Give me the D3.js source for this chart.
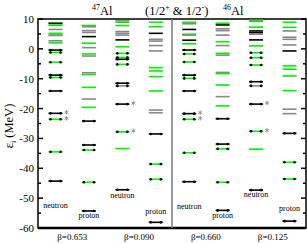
<!DOCTYPE html>
<html>
<head>
<meta charset="utf-8">
<script src="https://cdn.jsdelivr.net/npm/d3@7"></script>
<style>
  body { margin: 0; background: #fff; }
  text { font-family: "Liberation Serif", "DejaVu Serif", serif; }
</style>
</head>
<body>
<svg width="307" height="243"></svg>
<script>
// level codes: k = black, g = green, s = grey, d = occupied (dots), * = star
var n47a = [[8.7,"g"],[8.5,"k"],[7.9,"g"],[6.5,"s"],[5.2,"g"],[4.6,"g"],[4.5,"s"],[2.7,"s"],[2.0,"g"],
  [-0.4,"kd"],[-1.2,"gd"],[-4.5,"gd"],[-8.8,"kd"],[-9.6,"gd"],[-14.1,"kd"],[-21.6,"kd*"],[-23.6,"gd*"],
  [-34.5,"gd"],[-44.3,"kd"]];
var p47a = [[7.8,"g"],[7.4,"s"],[6.1,"s"],[5.5,"s"],[4.1,"k"],[1.9,"g"],[0.4,"s"],[-1.7,"g"],[-2.4,"s"],
  [-8.0,"s"],[-8.6,"g"],[-12.9,"g"],[-16.8,"s"],[-19.6,"g"],[-24.2,"kd"],[-32.2,"kd"],[-33.9,"gd"],
  [-44.7,"gd"],[-54.3,"kd"]];
var n47b = [[9.4,"g"],[8.9,"s"],[7.8,"g"],[5.8,"s"],[5.2,"s"],[4.6,"s"],[3.0,"k"],[0.7,"g"],[-1.5,"gd"],
  [-2.9,"gd"],[-3.5,"kd"],[-5.2,"gd"],[-11.5,"kd"],[-12.4,"sd"],[-18.5,"kd*"],[-27.8,"gd*"],[-33.4,"g"],
  [-47.2,"kd"]];
var p47b = [[8.9,"g"],[7.4,"g"],[5.2,"k"],[3.2,"s"],[2.6,"s"],[1.1,"s"],[-0.7,"s"],[-6.3,"g"],[-7.4,"g"],
  [-9.3,"g"],[-14.1,"g"],[-20.5,"s"],[-21.4,"s"],[-28.5,"kd"],[-38.6,"gd"],[-43.7,"gd"],[-58.1,"kd"]];
var n46a = [[8.9,"g"],[8.4,"s"],[6.5,"k"],[4.9,"g"],[4.6,"s"],[2.9,"k"],[1.7,"g"],[-0.4,"kd"],[-1.7,"gd"],
  [-4.4,"gd"],[-8.8,"kd"],[-9.9,"gd"],[-14.1,"kd"],[-21.7,"kd*"],[-23.6,"gd*"],[-34.8,"gd"],[-44.5,"kd"]];
var p46a = [[8.6,"g"],[8.0,"k"],[6.7,"s"],[6.1,"s"],[4.6,"s"],[2.4,"g"],[1.1,"s"],[-1.5,"g"],[-2.1,"s"],
  [-7.9,"s"],[-8.3,"g"],[-12.1,"g"],[-16.0,"s"],[-19.1,"g"],[-23.4,"kd"],[-31.9,"kd"],[-33.5,"gd"],
  [-44.7,"gd"],[-54.1,"kd"]];
var n46b = [[9.6,"s"],[9.2,"g"],[7.3,"g"],[6.0,"k"],[5.4,"k"],[4.9,"s"],[3.0,"k"],[1.0,"g"],[-1.3,"gd"],
  [-2.96,"gd"],[-5.4,"gd"],[-11.0,"kd"],[-12.4,"sd"],[-18.5,"kd*"],[-27.6,"gd*"],[-33.6,"g"],[-47.3,"kd"]];
var p46b = [[8.9,"g"],[7.2,"g"],[6.0,"s"],[3.9,"s"],[3.2,"s"],[1.3,"s"],[-0.7,"k"],[-5.7,"g"],[-6.8,"g"],
  [-9.1,"g"],[-14.0,"g"],[-20.2,"s"],[-21.7,"s"],[-28.3,"kd"],[-38.0,"gd"],[-43.6,"gd"],[-57.7,"kd"]];

var columns = [n47a, p47a, n47b, p47b, n46a, p46a, n46b, p46b];
var colNames = ["neutron","proton","neutron","proton","neutron","proton","neutron","proton"];
var colLabelE = [-53.3, -56.6, -49.8, -55.3, -53.6, -56.6, -49.6, -54.3];
var betas = ["β=0.653","β=0.090","β=0.660","β=0.125"];
var yTicks = [10, 0, -10, -20, -30, -40, -50, -60];

var svg = d3.select("svg");
var mLeft = 38, mRight = 306, mTop = 19, mBottom = 228;

var y = d3.scaleLinear().domain([-60, 10]).range([mBottom, mTop]);
var x = d3.scalePoint().domain(d3.range(8)).range([55.5, 289.5]);
var halfW = 7;
var colors = {k: "#000", g: "#00f000", s: "#888"};

// frame
svg.append("rect")
    .attr("x", mLeft).attr("y", mTop)
    .attr("width", mRight - mLeft).attr("height", mBottom - mTop)
    .attr("fill", "none").attr("stroke", "#000").attr("stroke-width", 1.5);
svg.append("line")
    .attr("x1", mLeft).attr("x2", mRight).attr("y1", mBottom).attr("y2", mBottom)
    .attr("stroke", "#000").attr("stroke-width", 2.5);

// divider between the two nuclei
svg.append("line")
    .attr("x1", 172).attr("x2", 172).attr("y1", mTop).attr("y2", mBottom)
    .attr("stroke", "#777").attr("stroke-width", 1.5);

// ticks, inside on both sides
var minor = d3.range(-55, 10, 10);
[mLeft, mRight].forEach(function (ax) {
    var dir = ax === mLeft ? 1 : -1;
    svg.append("g").selectAll("line").data(yTicks).enter().append("line")
        .attr("x1", ax).attr("x2", ax + dir * 5)
        .attr("y1", function (d) { return y(d); }).attr("y2", function (d) { return y(d); })
        .attr("stroke", "#000").attr("stroke-width", 1.5);
    svg.append("g").selectAll("line").data(minor).enter().append("line")
        .attr("x1", ax).attr("x2", ax + dir * 3)
        .attr("y1", function (d) { return y(d); }).attr("y2", function (d) { return y(d); })
        .attr("stroke", "#000").attr("stroke-width", 1.5);
});

svg.append("g").selectAll("text").data(yTicks).enter().append("text")
    .attr("x", 34).attr("y", function (d) { return y(d) + 4; })
    .attr("text-anchor", "end").attr("font-size", 11)
    .text(function (d) { return d; });

// y label
var yl = svg.append("text")
    .attr("transform", "translate(13," + 126 + ") rotate(-90)")
    .attr("text-anchor", "middle").attr("font-size", 12.5);
yl.append("tspan").text("ε");
yl.append("tspan").attr("font-size", 8).attr("dy", 3).text("i");
yl.append("tspan").attr("dy", -3).text(" (MeV)");

// levels
var star = d3.symbol().type(d3.symbolAsterisk).size(14);
columns.forEach(function (levels, i) {
    var cx = x(i);
    var g = svg.append("g");
    g.selectAll("line").data(levels).enter().append("line")
        .attr("x1", cx - halfW).attr("x2", cx + halfW)
        .attr("y1", function (d) { return y(d[0]); }).attr("y2", function (d) { return y(d[0]); })
        .attr("stroke", function (d) { return colors[d[1][0]]; })
        .attr("stroke-width", 1.6);
    var occ = levels.filter(function (d) { return d[1].indexOf("d") >= 0; });
    [-halfW + 2, halfW - 2].forEach(function (off) {
        g.selectAll(null).data(occ).enter().append("circle")
            .attr("cx", cx + off).attr("cy", function (d) { return y(d[0]); })
            .attr("r", 1.3).attr("fill", "#000");
    });
    // grey asterisk markers
    g.selectAll("path").data(levels.filter(function (d) { return d[1].indexOf("*") >= 0; }))
        .enter().append("path")
        .attr("transform", function (d) { return "translate(" + (cx + halfW + 4) + "," + (y(d[0]) - 1) + ")"; })
        .attr("d", star)
        .attr("fill", "none").attr("stroke", "#999").attr("stroke-width", 1);
    svg.append("text")
        .attr("x", cx).attr("y", y(colLabelE[i]))
        .attr("text-anchor", "middle").attr("font-size", 8)
        .text(colNames[i]);
});

// beta labels
svg.append("g").selectAll("text").data(betas).enter().append("text")
    .attr("x", function (d, i) { return (x(2 * i) + x(2 * i + 1)) / 2; })
    .attr("y", 240).attr("text-anchor", "middle").attr("font-size", 9)
    .text(function (d) { return d; });

// title pieces
function nucleus(xp, mass) {
    var t = svg.append("text").attr("x", xp).attr("y", 15).attr("font-size", 12.5);
    t.append("tspan").attr("font-size", 8).attr("dy", -5).text(mass);
    t.append("tspan").attr("dy", 5).text("Al");
}
nucleus(92, "47");
nucleus(223, "46");
var sp = svg.append("text").attr("x", 145).attr("y", 15).attr("font-size", 12.5);
sp.append("tspan").text("(1/2");
sp.append("tspan").attr("font-size", 8).attr("dy", -5).text("+");
sp.append("tspan").attr("dy", 5).text(" & 1/2");
sp.append("tspan").attr("font-size", 8).attr("dy", -5).text("-");
sp.append("tspan").attr("dy", 5).text(")");
</script>
</body>
</html>
